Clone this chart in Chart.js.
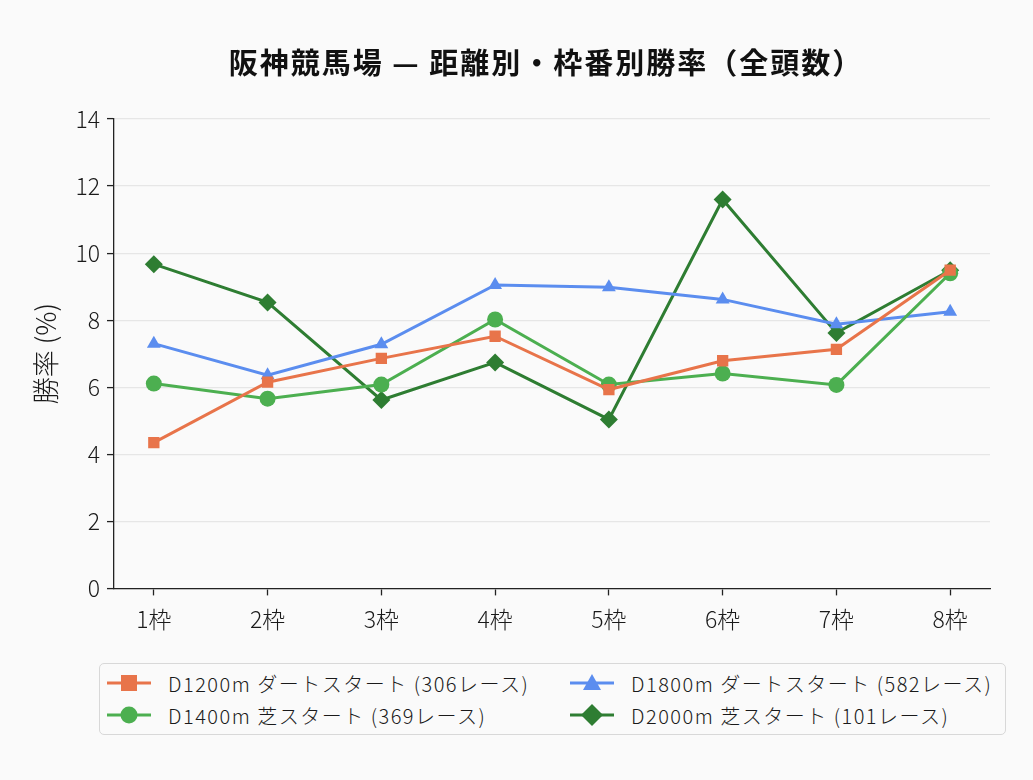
<!DOCTYPE html>
<html>
<head>
<meta charset="utf-8">
<script src="https://cdn.jsdelivr.net/npm/chart.js"></script>
<style>
    body { margin: 0; background: #fafafa; font-family: "Noto Sans CJK JP", "Noto Sans", sans-serif; }
    .wrap { position: relative; width: 1033px; height: 780px; }
    .title {
        position: absolute; left: 0; top: 41px; width: 1092px; text-align: center;
        font-size: 29px; font-weight: bold; color: #111; line-height: 40px; letter-spacing: 2px;
    }
    .chart-box { position: absolute; left: 0; top: 0; width: 1033px; height: 650px; }
    .legend {
        position: absolute; left: 99px; top: 663px; width: 907px; height: 72px;
        border: 1.5px solid #d8d8d8; border-radius: 5px; background: #fafafa;
        display: grid; grid-template-columns: 463px 1fr; align-content: center;
        row-gap: 5px; padding-left: 7px; box-sizing: border-box;
        font-size: 20px; font-weight: 300; color: #1a1a1a; letter-spacing: 1.5px;
    }
    .legend div { display: flex; align-items: center; height: 27px; white-space: nowrap; }
    .legend svg { margin-right: 17px; }
</style>
</head>
<body>
<div class="wrap">
    <div class="chart-box"><canvas id="winChart"></canvas></div>
    <div class="title">阪神競馬場 — 距離別・枠番別勝率（全頭数）</div>
    <div class="legend" id="legend"></div>
</div>
<script>
    var gateLabels = ["1枠", "2枠", "3枠", "4枠", "5枠", "6枠", "7枠", "8枠"];

    var d1200 = [4.35, 6.15, 6.86, 7.52, 5.93, 6.79, 7.13, 9.49];
    var d1400 = [6.11, 5.66, 6.08, 8.02, 6.08, 6.41, 6.07, 9.40];
    var d1800 = [7.30, 6.36, 7.28, 9.05, 8.98, 8.62, 7.88, 8.25];
    var d2000 = [9.67, 8.53, 5.62, 6.74, 5.04, 11.60, 7.62, 9.49];

    var series = [
        { label: "D1200m ダートスタート (306レース)", data: d1200, color: "#e8744a", point: "rect" },
        { label: "D1400m 芝スタート (369レース)", data: d1400, color: "#4caf50", point: "circle" },
        { label: "D1800m ダートスタート (582レース)", data: d1800, color: "#5b8def", point: "triangle" },
        { label: "D2000m 芝スタート (101レース)", data: d2000, color: "#2e7d32", point: "rectRot" }
    ];

    var fontFamily = '"Noto Sans CJK JP", "Noto Sans", sans-serif';

    new Chart(document.getElementById("winChart").getContext("2d"), {
        type: "line",
        data: {
            datasets: series.map(function(s) {
                return {
                    label: s.label,
                    data: s.data.map(function(v, i) { return { x: i, y: v }; }),
                    borderColor: s.color,
                    backgroundColor: s.color,
                    pointStyle: s.point,
                    pointRadius: s.point === "rectRot" ? 9 : 8,
                    pointBorderWidth: 0,
                    borderWidth: 3,
                    tension: 0,
                    fill: false
                };
            })
        },
        options: {
            responsive: true,
            maintainAspectRatio: false,
            animation: false,
            layout: { padding: { left: 20, right: 43, top: 119, bottom: 7 } },
            plugins: {
                legend: { display: false },
                tooltip: { enabled: false },
                title: { display: false }
            },
            scales: {
                x: {
                    type: "linear",
                    min: -0.35,
                    max: 7.35,
                    afterBuildTicks: function(axis) {
                        axis.ticks = gateLabels.map(function(l, i) { return { value: i }; });
                    },
                    ticks: {
                        autoSkip: false,
                        maxRotation: 0,
                        padding: 10,
                        color: "#1a1a1a",
                        font: { family: fontFamily, size: 23, weight: 300 },
                        callback: function(value) { return gateLabels[value]; }
                    },
                    grid: { drawOnChartArea: false, tickLength: 7, tickColor: "#222", tickWidth: 1.3 },
                    border: { color: "#222", width: 1.3 }
                },
                y: {
                    min: 0,
                    max: 14,
                    afterFit: function(axis) { axis.width = 94; },
                    ticks: {
                        stepSize: 2,
                        padding: 7,
                        color: "#1a1a1a",
                        font: { family: fontFamily, size: 23, weight: 300 }
                    },
                    title: {
                        display: true,
                        text: "勝率 (%)",
                        color: "#1a1a1a",
                        font: { family: fontFamily, size: 27, weight: 300 },
                        padding: { top: 10, bottom: 0 }
                    },
                    grid: { color: "#e6e6e6", lineWidth: 1.2, tickLength: 7, tickColor: "#222", tickWidth: 1.3 },
                    border: { color: "#222", width: 1.3 }
                }
            }
        }
    });

    // legend: row-wise order D1200, D1800 / D1400, D2000
    function markerSvg(s) {
        var shape = "";
        if (s.point === "rect") shape = '<rect x="14" y="4" width="16" height="16" fill="' + s.color + '"/>';
        if (s.point === "circle") shape = '<circle cx="22" cy="12" r="8.5" fill="' + s.color + '"/>';
        if (s.point === "triangle") shape = '<polygon points="22,3 31,19 13,19" fill="' + s.color + '"/>';
        if (s.point === "rectRot") shape = '<polygon points="22,1 33,12 22,23 11,12" fill="' + s.color + '"/>';
        return '<svg width="44" height="24"><line x1="0" y1="12" x2="44" y2="12" stroke="' + s.color + '" stroke-width="3"/>' + shape + '</svg>';
    }
    var legendOrder = [0, 2, 1, 3];
    document.getElementById("legend").innerHTML = legendOrder.map(function(i) {
        return '<div>' + markerSvg(series[i]) + '<span>' + series[i].label + '</span></div>';
    }).join("");
</script>
</body>
</html>
